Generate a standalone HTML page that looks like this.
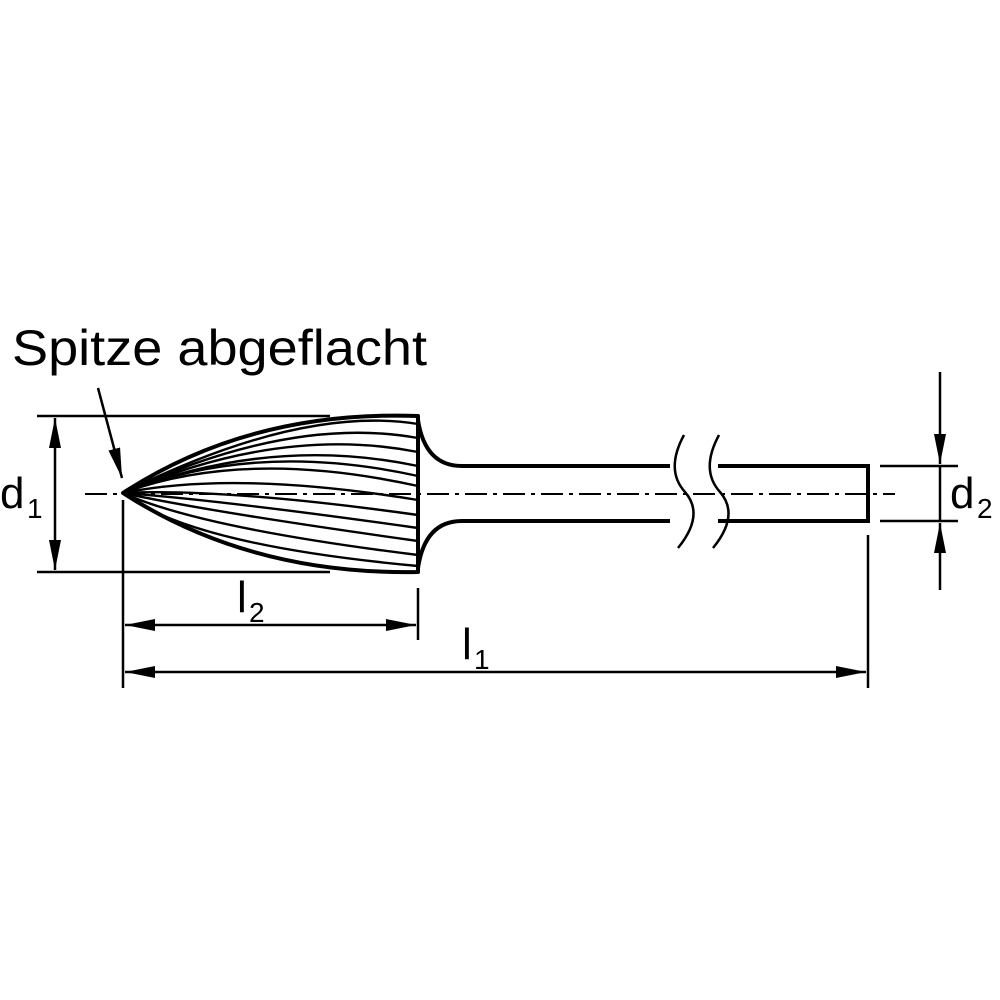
<!DOCTYPE html>
<html><head><meta charset="utf-8"><style>html,body{margin:0;padding:0;background:#fff}svg{display:block}</style></head>
<body>
<svg width="1000" height="1000" viewBox="0 0 1000 1000" xmlns="http://www.w3.org/2000/svg" font-family="Liberation Sans, sans-serif">
<defs>
<marker id="a" viewBox="0 0 30 12" refX="30" refY="6" markerWidth="30" markerHeight="12" markerUnits="userSpaceOnUse" orient="auto-start-reverse"><path d="M0,0 L30,6 L0,12 Z" fill="#000"/></marker>
</defs>
<rect width="1000" height="1000" fill="#fff"/>
<text x="12" y="365" font-size="50" textLength="415" lengthAdjust="spacingAndGlyphs">Spitze abgeflacht</text>
<line x1="98" y1="388" x2="122" y2="478" stroke="#000" stroke-width="2.5" marker-end="url(#a)"/>
<line x1="85" y1="494" x2="895" y2="494" stroke="#000" stroke-width="2" stroke-dasharray="22,6,4,6"/>
<g fill="none" stroke="#000">
<path d="M123,493 Q250,410 418,416 L418,572 Q250,575 123,493 Z" stroke-width="4" stroke-linejoin="round"/>
<g stroke-width="2.4">
<path d="M123,493 Q300,405 418,424"/>
<path d="M123,493 Q290,415 418,438"/>
<path d="M123,493 Q280,425 418,452"/>
<path d="M123,493 Q270,435 418,466"/>
<path d="M123,493 Q255,440 418,476"/>
<path d="M123,493 Q245,448 418,486"/>
<path d="M123,493 Q235,470 418,500"/>
<path d="M123,493 Q225,488 418,515"/>
<path d="M123,493 Q220,500 418,528"/>
<path d="M123,493 Q210,512 418,541"/>
<path d="M123,493 Q200,528 418,555"/>
<path d="M123,493 Q190,545 418,566"/>
</g>
<path d="M418,420 Q425,466 462,466 L670,466 M718,466 L868,466 L868,521 L718,521 M670,521 L462,521 Q425,521 418,568" stroke-width="4"/>
<path d="M684,435 Q665,470 685,492 Q705,515 678,548" stroke-width="2.5"/>
<path d="M719,435 Q700,470 720,492 Q740,515 713,548" stroke-width="2.5"/>
</g>
<g stroke="#000" stroke-width="2.5" fill="none">
<line x1="37" y1="416" x2="330" y2="416"/>
<line x1="37" y1="572" x2="330" y2="572"/>
<line x1="55" y1="450" x2="55" y2="418" marker-end="url(#a)"/>
<line x1="55" y1="450" x2="55" y2="570" marker-end="url(#a)"/>
<line x1="880" y1="466" x2="958" y2="466"/>
<line x1="880" y1="521" x2="958" y2="521"/>
<line x1="940" y1="372" x2="940" y2="464" marker-end="url(#a)"/>
<line x1="940" y1="590" x2="940" y2="523" marker-end="url(#a)"/>
<line x1="940" y1="466" x2="940" y2="521"/>
<line x1="123" y1="500" x2="123" y2="688"/>
<line x1="418" y1="588" x2="418" y2="640"/>
<line x1="868" y1="535" x2="868" y2="688"/>
<line x1="125" y1="625" x2="416" y2="625" marker-start="url(#a)" marker-end="url(#a)"/>
<line x1="125" y1="672" x2="866" y2="672" marker-start="url(#a)" marker-end="url(#a)"/>
</g>
<text x="0" y="508" font-size="44">d</text><text x="27" y="518" font-size="28">1</text>
<text x="950" y="508" font-size="44">d</text><text x="977" y="518" font-size="28">2</text>
<text x="237" y="612" font-size="44">l</text><text x="249" y="622" font-size="28">2</text>
<text x="462" y="659" font-size="44">l</text><text x="474" y="669" font-size="28">1</text>
</svg>
</body></html>
